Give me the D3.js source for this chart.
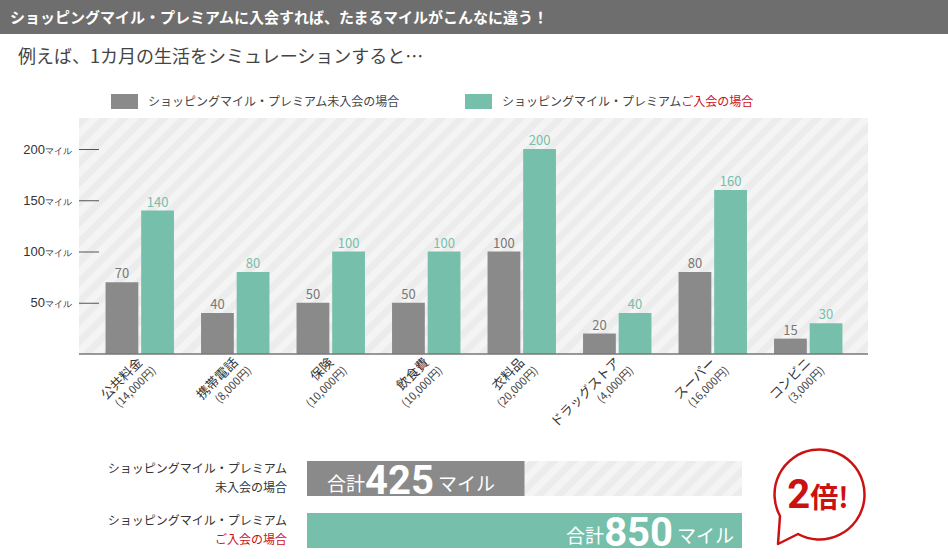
<!DOCTYPE html>
<html><head><meta charset="utf-8">
<script src="https://cdn.jsdelivr.net/npm/d3@7"></script>
<style>body{margin:0;background:#fff;font-family:"Noto Sans CJK JP","Noto Sans",sans-serif;}</style>
</head><body>
<script>
const categories = ['公共料金', '携帯電話', '保険', '飲食費', '衣料品', 'ドラッグストア', 'スーパー', 'コンビニ'];
const spending = ['(14,000円)', '(8,000円)', '(10,000円)', '(10,000円)', '(20,000円)', '(4,000円)', '(16,000円)', '(3,000円)'];
const nonMember = [70, 40, 50, 50, 100, 20, 80, 15];
const member = [140, 80, 100, 100, 200, 40, 160, 30];
const yTicks = [50, 100, 150, 200];
const totals = [425, 850];

const GRAY = '#8a8a8a', GREEN = '#76bfaa', RED = '#cc1111';
const W = 948, H = 559;
const svg = d3.select('body').append('svg').attr('width', W).attr('height', H);

const defs = svg.append('defs');
const pat = defs.append('pattern').attr('id', 'stripe').attr('patternUnits', 'userSpaceOnUse')
    .attr('width', 14).attr('height', 14).attr('patternTransform', 'rotate(45)');
pat.append('rect').attr('width', 14).attr('height', 14).attr('fill', '#f4f4f4');
pat.append('rect').attr('width', 7).attr('height', 14).attr('fill', '#ececec');

// header
svg.append('rect').attr('width', W).attr('height', 34).attr('fill', '#6e6e6e');
svg.append('text').attr('x', 10).attr('y', 23).attr('fill', '#fff').attr('font-size', 15).attr('font-weight', 'bold')
    .text('ショッピングマイル・プレミアムに入会すれば、たまるマイルがこんなに違う！');
svg.append('text').attr('x', 18).attr('y', 63).attr('fill', '#444').attr('font-size', 18)
    .text('例えば、1カ月の生活をシミュレーションすると…');

// legend
const lg = svg.append('g').attr('font-size', 12).attr('fill', '#444');
lg.append('rect').attr('x', 111).attr('y', 94).attr('width', 27).attr('height', 15).attr('fill', GRAY);
lg.append('text').attr('x', 148).attr('y', 106).text('ショッピングマイル・プレミアム未入会の場合');
lg.append('rect').attr('x', 465).attr('y', 94).attr('width', 27).attr('height', 15).attr('fill', GREEN);
const lt = lg.append('text').attr('x', 502).attr('y', 106);
lt.append('tspan').text('ショッピングマイル・プレミアム');
lt.append('tspan').attr('fill', RED).text('ご入会の場合');

// chart
const pLeft = 79, pRight = 868, pTop = 118, pBottom = 354;
const y = d3.scaleLinear().domain([0, 200]).range([pBottom, 149]);
const x = d3.scaleBand().domain(categories).range([92, 856]);
const xi = d3.scaleBand().domain([0, 1]).range([0, x.bandwidth()]).paddingInner(0.08).paddingOuter(0.38);

svg.append('rect').attr('x', pLeft).attr('y', pTop).attr('width', pRight - pLeft).attr('height', pBottom - pTop).attr('fill', 'url(#stripe)');

const ya = svg.append('g').attr('transform', `translate(${pLeft + 20},0)`)
    .call(d3.axisLeft(y).tickValues(yTicks).tickSize(20).tickPadding(6).tickFormat(() => ''));
ya.select('.domain').remove();
ya.selectAll('.tick line').attr('stroke', '#555');
ya.selectAll('.tick text').each(function (d) {
    const t = d3.select(this).attr('fill', '#333').attr('font-size', 13).attr('x', -27);
    t.append('tspan').text(d);
    t.append('tspan').attr('font-size', 9).text('マイル');
});

const series = [nonMember, member];
const colors = [GRAY, GREEN];
const labelColors = ['#777', GREEN];
categories.forEach((c, i) => {
    const g = svg.append('g').attr('transform', `translate(${x(c)},0)`);
    series.forEach((s, k) => {
        g.append('rect').attr('x', xi(k)).attr('y', y(s[i])).attr('width', xi.bandwidth())
            .attr('height', pBottom - y(s[i])).attr('fill', colors[k]);
        g.append('text').attr('x', xi(k) + xi.bandwidth() / 2).attr('y', y(s[i]) - 4)
            .attr('text-anchor', 'middle').attr('font-size', 13).attr('fill', labelColors[k]).text(s[i]);
    });
    const cx = x(c) + x.bandwidth() / 2 + 2;
    const lab = svg.append('g').attr('transform', `translate(${cx},${pBottom + 8}) rotate(-45)`);
    lab.append('text').attr('text-anchor', 'end').attr('y', 2).attr('font-size', 13).attr('fill', '#333').text(c);
    lab.append('text').attr('text-anchor', 'end').attr('x', 4).attr('y', 17).attr('font-size', 11).attr('fill', '#444').text(spending[i]);
});
svg.append('line').attr('x1', pLeft).attr('x2', pRight).attr('y1', pBottom).attr('y2', pBottom).attr('stroke', '#777').attr('stroke-width', 1.5);

// totals
const tx = d3.scaleLinear().domain([0, 850]).range([307, 742]);
const rows = [
    { y: 461, lines: ['ショッピングマイル・プレミアム', '未入会の場合'], c2: '#333', color: GRAY, anchor: 'start' },
    { y: 513, lines: ['ショッピングマイル・プレミアム', 'ご入会の場合'], c2: RED, color: GREEN, anchor: 'end' }
];
rows.forEach((r, i) => {
    svg.append('rect').attr('x', tx(0)).attr('y', r.y).attr('width', tx(850) - tx(0)).attr('height', 35).attr('fill', 'url(#stripe)');
    svg.append('rect').attr('x', tx(0)).attr('y', r.y).attr('width', tx(totals[i]) - tx(0)).attr('height', 35).attr('fill', r.color);
    svg.append('text').attr('x', 287).attr('y', r.y + 12).attr('text-anchor', 'end').attr('font-size', 12).attr('fill', '#333').text(r.lines[0]);
    svg.append('text').attr('x', 287).attr('y', r.y + 31).attr('text-anchor', 'end').attr('font-size', 12).attr('fill', r.c2).text(r.lines[1]);
    const t = svg.append('text').attr('fill', '#fff').attr('y', r.y + 30).attr('text-anchor', r.anchor)
        .attr('x', r.anchor === 'start' ? tx(0) + 20 : tx(totals[i]) - 8);
    t.append('tspan').attr('font-size', 19).text('合計');
    t.append('tspan').attr('font-size', 40).attr('font-weight', 'bold').attr('font-family', 'Roboto, sans-serif').attr('dy', 3).text(totals[i]);
    t.append('tspan').attr('font-size', 19).attr('dx', 4).attr('dy', -3).text('マイル');
});

// badge
const b = svg.append('g').attr('transform', 'translate(818,494)');
b.append('path')
    .attr('d', 'M -38 22 A 45 45 0 1 1 -20 40 L -40 50 Z')
    .attr('fill', '#fff').attr('stroke', RED).attr('stroke-width', 2.5).attr('stroke-linejoin', 'round');
const bt = b.append('text').attr('text-anchor', 'middle').attr('y', 14).attr('fill', RED).attr('font-weight', 'bold');
bt.append('tspan').attr('font-size', 40).attr('font-family', 'Roboto, sans-serif').text('2');
bt.append('tspan').attr('font-size', 28).text('倍!');
</script>
</body></html>
